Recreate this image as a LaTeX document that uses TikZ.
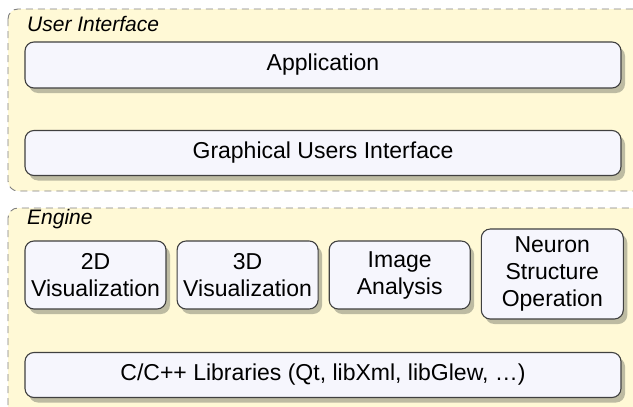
\documentclass[tikz,border=0pt]{standalone}
\usepackage{fontspec}
\setmainfont{Liberation Sans}
\usetikzlibrary{positioning,shadows}

\definecolor{layerfill}{HTML}{FFF9D6}
\definecolor{blockfill}{HTML}{F6F6FD}
\definecolor{shadowc}{HTML}{BDBBA2}

\begin{document}
\begin{tikzpicture}[x=1pt,y=-1pt,node distance=9pt]
  \tikzstyle{layer}=[draw=gray,dash pattern=on 7pt off 5pt,rounded corners=10pt,fill=layerfill,line width=0.9pt]
  \tikzstyle{block}=[draw=black!75,line width=1.1pt,rounded corners=9pt,fill=blockfill,align=center,
    font=\fontsize{23}{27}\selectfont,inner sep=0pt,
    drop shadow={shadow xshift=4pt,shadow yshift=-5pt,fill=shadowc,opacity=1}]
  \tikzstyle{title}=[anchor=west,inner sep=0pt,font=\fontsize{21}{25}\selectfont\itshape]
  \useasboundingbox (0,0) rectangle (633,407);
  \clip (0,0) rectangle (633,407);
  % layers
  \draw[layer] (8,9) rectangle (660,191);
  \draw[layer] (8,208) rectangle (660,430);
  \node[title] (uitxt) at (27,24) {User Interface};
  \node[title] (engtxt) at (27,219) {Engine};
  % user interface
  \node[block,minimum width=596pt,minimum height=46pt] (app) at (323,65) {Application};
  \node[block,minimum width=596pt,minimum height=45pt] (gui) at (323,153) {Graphical Users Interface};
  % engine
  \node[block,minimum width=141pt,minimum height=68pt] (vis2d) at (95.5,275) {2D\\Visualization};
  \node[block,minimum width=141pt,minimum height=68pt,right=10pt of vis2d] (vis3d) {3D\\Visualization};
  \node[block,minimum width=141pt,minimum height=68pt,right=10pt of vis3d] (imgana) {Image\\Analysis};
  \node[block,minimum width=142pt,minimum height=90pt,right=10pt of imgana,yshift=1pt] (neuron) {Neuron\\Structure\\Operation};
  \node[block,minimum width=596pt,minimum height=45pt] (libs) at (323,375) {C/C++ Libraries (Qt, libXml, libGlew, \dots)};
\end{tikzpicture}
\end{document}
